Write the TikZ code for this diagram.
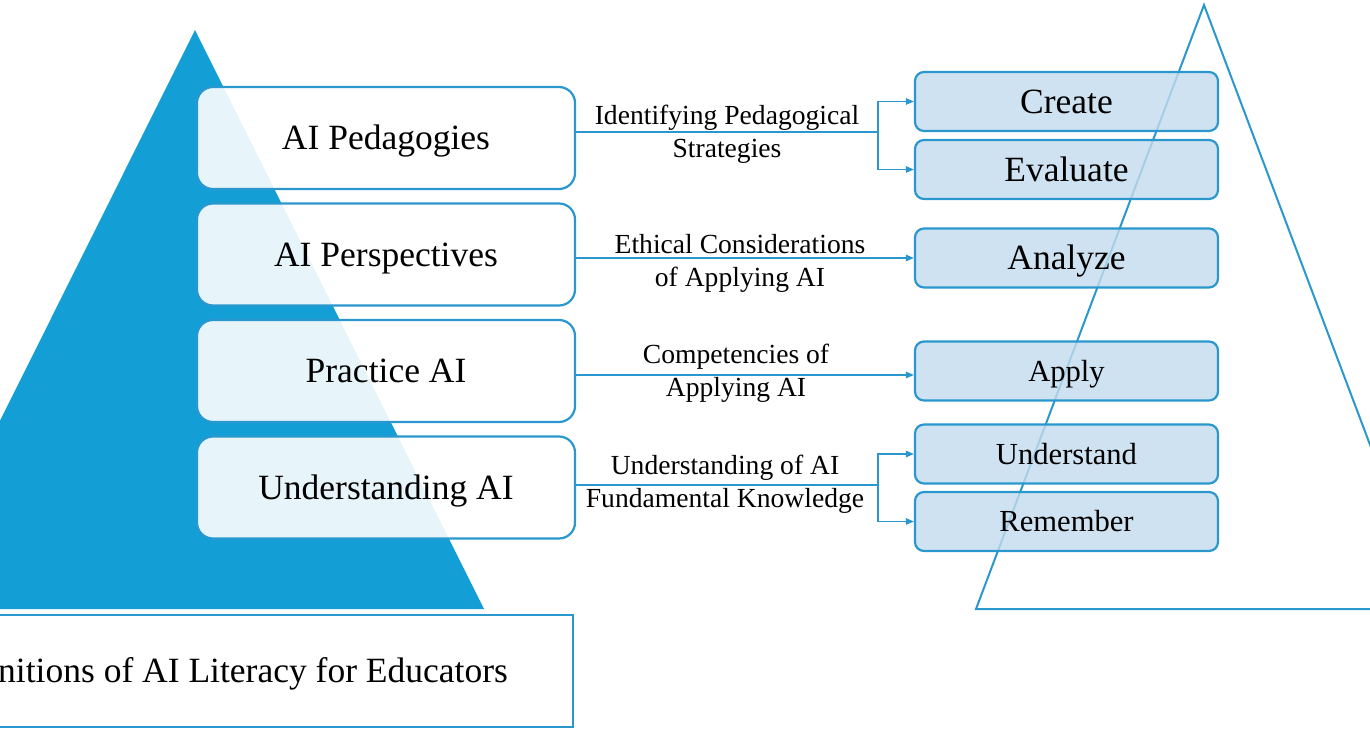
\documentclass[tikz,border=0pt]{standalone}
\usepackage{fontspec}
\setmainfont{Liberation Serif}
\usetikzlibrary{arrows.meta,calc}

\definecolor{pyramid}{HTML}{139ED6}
\definecolor{edge}{HTML}{2A98CE}
\definecolor{levelfill}{HTML}{C3DBED}

\tikzset{
  big/.style={font=\fontsize{35.5}{40}\selectfont, text height=23.5pt, text depth=0pt},
  mid/.style={font=\fontsize{30.6}{36}\selectfont, text height=20.3pt, text depth=0pt},
  lbl/.style={font=\fontsize{27.6}{33}\selectfont, align=center, inner sep=0pt},
  dimbox/.style={draw=edge, line width=2.2pt, rounded corners=16pt,
    fill=white, fill opacity=0.9, text opacity=1,
    minimum width=378pt, minimum height=102pt, inner sep=0pt},
  levelbox/.style={draw=edge, line width=2.2pt, rounded corners=9pt,
    fill=levelfill, fill opacity=0.8, text opacity=1,
    minimum width=303pt, minimum height=59pt, inner sep=0pt},
  link/.style={draw=edge, line width=1.3pt},
  arrowlink/.style={link, -{Triangle[length=8pt,width=6.5pt]}},
}

\begin{document}
\begin{tikzpicture}[x=1pt,y=-1pt]
\useasboundingbox (0,0) rectangle (1370,735);
\clip (0,0) rectangle (1370,735);

% filled pyramid behind the four dimensions
\fill[pyramid] (-94,609) -- (195,30) -- (484,609) -- cycle;

% outlined pyramid behind the cognitive levels
\draw[edge, line width=2pt, line join=miter] (976,609) -- (1204,5) -- (1432,609) -- cycle;

% dimensions of AI literacy
\node[dimbox, big] (p1) at (386,138) {AI Pedagogies};
\node[dimbox, big] (p2) at (386,254.5) {AI Perspectives};
\node[dimbox, big] (p3) at (386,371) {Practice AI};
\node[dimbox, big] (p4) at (386,487.5) {Understanding AI};

% cognitive levels
\node[levelbox, big] (create)   at (1066.5,101.5) {Create};
\node[levelbox, big] (evaluate) at (1066.5,169.5) {Evaluate};
\node[levelbox, big] (analyze)  at (1066.5,258) {Analyze};
\node[levelbox, mid] (apply)    at (1066.5,371) {Apply};
\node[levelbox, mid] (understand) at (1066.5,454) {Understand};
\node[levelbox, mid] (remember) at (1066.5,521.5) {Remember};

% branch points
\coordinate (j1) at (878,132);
\coordinate (j4) at (878,485);

% connectors
\draw[link] (p1.east |- j1) -- (j1);
\draw[arrowlink] (j1) |- (create.west);
\draw[arrowlink] (j1) |- (evaluate.west);
\draw[arrowlink] (p2.east |- analyze.west) -- (analyze.west);
\draw[arrowlink] ($(p3.east)+(0,4)$) -- ($(apply.west)+(0,4)$);
\draw[link] (p4.east |- j4) -- (j4);
\draw[arrowlink] (j4) |- (understand.west);
\draw[arrowlink] (j4) |- (remember.west);

% connector labels
\node[lbl] (l1) at (727,134) {Identifying Pedagogical\\Strategies};
\node[lbl] (l2) at (740,263) {Ethical Considerations\\of Applying AI};
\node[lbl] (l3) at (736,373) {Competencies of\\Applying AI};
\node[lbl] (l4) at (725,484) {Understanding of AI\\Fundamental Knowledge};

% title bar
\node[draw=edge, line width=2pt, fill=white, minimum width=703pt, minimum height=112pt,
  inner sep=0pt, big] (title) at (221.5,671) {Definitions of AI Literacy for Educators};
\end{tikzpicture}
\end{document}
